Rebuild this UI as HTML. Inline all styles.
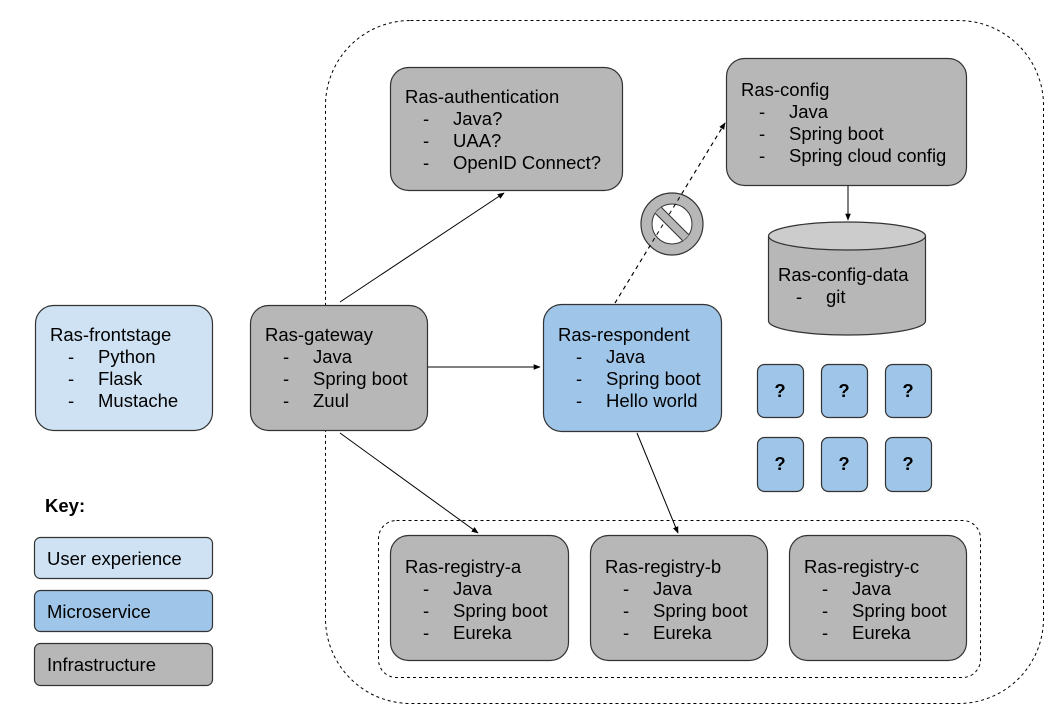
<!DOCTYPE html>
<html><head><meta charset="utf-8"><style>
html,body{margin:0;padding:0;background:#fff}
svg{display:block}
text{font-family:"Liberation Sans",Arial,sans-serif;font-size:18.5px;fill:#000}
</style></head><body>
<svg width="1059" height="718" viewBox="0 0 1059 718" xmlns="http://www.w3.org/2000/svg">
<defs>
<marker id="ah" viewBox="0 0 10 10" refX="9" refY="5" markerWidth="7" markerHeight="7" orient="auto-start-reverse">
<path d="M0,1 L10,5 L0,9 z" fill="#000"/></marker>
</defs>
<g stroke="#000" stroke-width="1" fill="none">
<rect x="325.5" y="20.5" width="718" height="683" rx="85" stroke-dasharray="3,3"/>
<rect x="378.5" y="520.5" width="602" height="157" rx="18" stroke-dasharray="3,3"/>
</g>
<g stroke="#333" stroke-width="1.2">
<rect x="390.5" y="67.5" width="232" height="123" rx="18" fill="#b7b7b7"/>
<rect x="726.5" y="58.5" width="240" height="127" rx="18" fill="#b7b7b7"/>
<rect x="35.5" y="305.5" width="177" height="125" rx="18" fill="#cfe2f3"/>
<rect x="250.5" y="305.5" width="177" height="125" rx="18" fill="#b7b7b7"/>
<rect x="543.5" y="304.5" width="178" height="127" rx="18" fill="#9fc5e8"/>
<rect x="390.5" y="535.5" width="178" height="125" rx="18" fill="#b7b7b7"/>
<rect x="590.5" y="535.5" width="177" height="125" rx="18" fill="#b7b7b7"/>
<rect x="789.5" y="535.5" width="177" height="125" rx="18" fill="#b7b7b7"/>
<rect x="34.5" y="537.5" width="178" height="41" rx="6" fill="#cfe2f3"/>
<rect x="34.5" y="590.5" width="178" height="41" rx="6" fill="#9fc5e8"/>
<rect x="34.5" y="643.5" width="178" height="42" rx="6" fill="#b7b7b7"/>
<g fill="#9fc5e8">
<rect x="757.5" y="364.5" width="46" height="53" rx="7"/>
<rect x="821.5" y="364.5" width="46" height="53" rx="7"/>
<rect x="885.5" y="364.5" width="46" height="53" rx="7"/>
<rect x="757.5" y="437.5" width="46" height="54" rx="7"/>
<rect x="821.5" y="437.5" width="46" height="54" rx="7"/>
<rect x="885.5" y="437.5" width="46" height="54" rx="7"/>
</g>
<path d="M768.5,236 L768.5,321 A78.5,14 0 0 0 925.5,321 L925.5,236" fill="#b7b7b7"/>
<ellipse cx="847" cy="236" rx="78.5" ry="14" fill="#cccccc"/>
</g>
<g stroke="#000" stroke-width="1" fill="none">
<line x1="340" y1="302" x2="504" y2="193" marker-end="url(#ah)"/>
<line x1="428" y1="367" x2="540" y2="367" marker-end="url(#ah)"/>
<line x1="340" y1="433" x2="478" y2="533" marker-end="url(#ah)"/>
<line x1="637" y1="433" x2="678" y2="533" marker-end="url(#ah)"/>
<line x1="848" y1="186" x2="848" y2="220" marker-end="url(#ah)"/>
<line x1="615" y1="303" x2="725" y2="123" stroke-dasharray="4,4" marker-end="url(#ah)"/>
</g>
<g>
<circle cx="672" cy="224" r="31" fill="#b7b7b7" stroke="#333" stroke-width="1.2"/>
<circle cx="672" cy="224" r="20" fill="#fff" stroke="#333" stroke-width="1"/>
<line x1="615" y1="303" x2="725" y2="123" stroke="#000" stroke-dasharray="4,4"/>
<line x1="658" y1="210" x2="686" y2="238" stroke="#b7b7b7" stroke-width="9"/>
<line x1="655" y1="213" x2="683" y2="241" stroke="#333" stroke-width="1"/>
<line x1="661" y1="207" x2="689" y2="235" stroke="#333" stroke-width="1"/>
</g>
<g>
<text x="405" y="103">Ras-authentication</text>
<text x="423" y="125">-</text><text x="453" y="125">Java?</text>
<text x="423" y="147">-</text><text x="453" y="147">UAA?</text>
<text x="423" y="169">-</text><text x="453" y="169">OpenID Connect?</text>

<text x="741" y="96">Ras-config</text>
<text x="759" y="118">-</text><text x="789" y="118">Java</text>
<text x="759" y="140">-</text><text x="789" y="140">Spring boot</text>
<text x="759" y="162">-</text><text x="789" y="162">Spring cloud config</text>

<text x="778" y="281">Ras-config-data</text>
<text x="796" y="303">-</text><text x="826" y="303">git</text>

<text x="50" y="341">Ras-frontstage</text>
<text x="68" y="363">-</text><text x="98" y="363">Python</text>
<text x="68" y="385">-</text><text x="98" y="385">Flask</text>
<text x="68" y="407">-</text><text x="98" y="407">Mustache</text>

<text x="265" y="341">Ras-gateway</text>
<text x="283" y="363">-</text><text x="313" y="363">Java</text>
<text x="283" y="385">-</text><text x="313" y="385">Spring boot</text>
<text x="283" y="407">-</text><text x="313" y="407">Zuul</text>

<text x="558" y="341">Ras-respondent</text>
<text x="576" y="363">-</text><text x="606" y="363">Java</text>
<text x="576" y="385">-</text><text x="606" y="385">Spring boot</text>
<text x="576" y="407">-</text><text x="606" y="407">Hello world</text>

<text x="405" y="573">Ras-registry-a</text>
<text x="423" y="595">-</text><text x="453" y="595">Java</text>
<text x="423" y="617">-</text><text x="453" y="617">Spring boot</text>
<text x="423" y="639">-</text><text x="453" y="639">Eureka</text>

<text x="605" y="573">Ras-registry-b</text>
<text x="623" y="595">-</text><text x="653" y="595">Java</text>
<text x="623" y="617">-</text><text x="653" y="617">Spring boot</text>
<text x="623" y="639">-</text><text x="653" y="639">Eureka</text>

<text x="804" y="573">Ras-registry-c</text>
<text x="822" y="595">-</text><text x="852" y="595">Java</text>
<text x="822" y="617">-</text><text x="852" y="617">Spring boot</text>
<text x="822" y="639">-</text><text x="852" y="639">Eureka</text>

<text x="45" y="512" font-weight="bold" font-size="17">Key:</text>
<text x="47" y="565">User experience</text>
<text x="47" y="618">Microservice</text>
<text x="47" y="671">Infrastructure</text>

<g font-weight="bold" text-anchor="middle" font-size="17">
<text x="780" y="397">?</text><text x="844" y="397">?</text><text x="908" y="397">?</text>
<text x="780" y="470">?</text><text x="844" y="470">?</text><text x="908" y="470">?</text>
</g>
</g>
</svg>
</body></html>
